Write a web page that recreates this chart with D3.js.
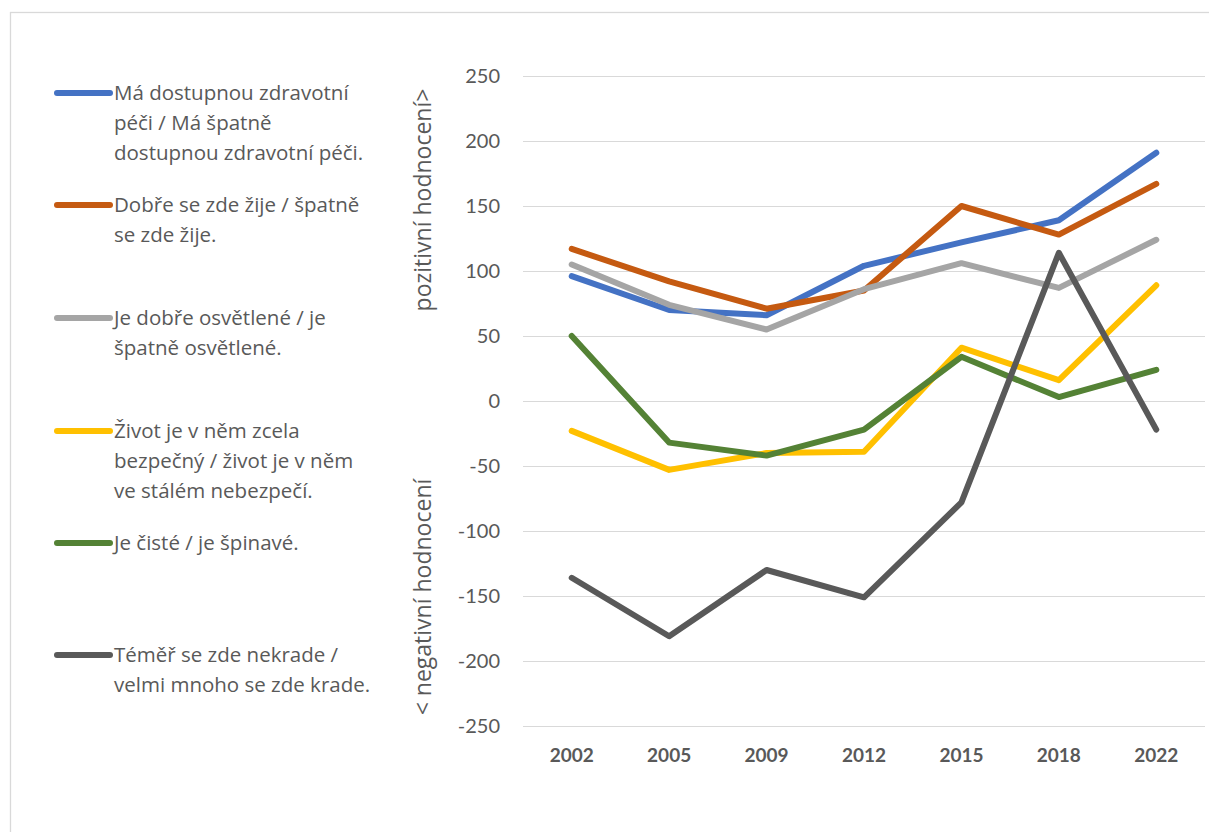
<!DOCTYPE html>
<meta charset="utf-8">
<style>
    body { margin: 0; background: #fff; }
    svg { font-family: Lato, "Open Sans", sans-serif; }
    .grid line { stroke: #d9d9d9; stroke-width: 1.3px; shape-rendering: crispEdges; }
    .tick-label { fill: #595959; font-size: 20px; }
    .axis-title { fill: #595959; font-size: 23px; font-family: "Open Sans", sans-serif; }
    .x-label { fill: #595959; font-size: 19px; font-weight: bold; }
    .legend text { fill: #595959; font-size: 20.5px; font-family: "Open Sans", sans-serif; }
</style>
<body>
<script src="https://d3js.org/d3.v7.min.js"></script>
<script>
    const years = ["2002", "2005", "2009", "2012", "2015", "2018", "2022"]
    const yTicks = [250, 200, 150, 100, 50, 0, -50, -100, -150, -200, -250]

    const healthcare = [96, 70, 66, 104, 122, 139, 191]
    const livingWell = [117, 92, 71, 85, 150, 128, 167]
    const lighting = [105, 74, 55, 86, 106, 87, 124]
    const safety = [-23, -53, -40, -39, 41, 16, 89]
    const cleanliness = [50, -32, -42, -22, 34, 3, 24]
    const theft = [-136, -181, -130, -151, -78, 114, -22]

    const seriesNames = [
        ["Má dostupnou zdravotní", "péči / Má špatně", "dostupnou zdravotní péči."],
        ["Dobře se zde žije / špatně", "se zde žije."],
        ["Je dobře osvětlené / je", "špatně osvětlené."],
        ["Život je v něm zcela", "bezpečný / život je v něm", "ve stálém nebezpečí."],
        ["Je čisté / je špinavé."],
        ["Téměř se zde nekrade /", "velmi mnoho se zde krade."]
    ]
    const seriesValues = [healthcare, livingWell, lighting, safety, cleanliness, theft]
    const colors = ["#4472c4", "#c55a11", "#a5a5a5", "#ffc000", "#548235", "#595959"]

    const width = 1209, height = 832
    const plot = {left: 523, right: 1205, top: 76, bottom: 726}

    const svg = d3.select("body").append("svg")
        .attr("width", width)
        .attr("height", height)

    // chart frame
    svg.append("rect")
        .attr("x", 10.5).attr("y", 12.5)
        .attr("width", 1220).attr("height", 840)
        .attr("fill", "none")
        .attr("stroke", "#d9d9d9")
        .attr("stroke-width", 1.3)

    let x = d3.scaleBand()
        .domain(years)
        .range([plot.left, plot.right])

    let y = d3.scaleLinear()
        .domain([-250, 250])
        .range([plot.bottom, plot.top])

    // gridlines
    svg.append("g")
        .attr("class", "grid")
        .selectAll("line")
        .data(yTicks)
        .enter().append("line")
            .attr("x1", plot.left)
            .attr("x2", plot.right)
            .attr("y1", d => Math.round(y(d)) + 0.5)
            .attr("y2", d => Math.round(y(d)) + 0.5)

    // y tick labels
    svg.append("g")
        .selectAll("text")
        .data(yTicks)
        .enter().append("text")
            .attr("class", "tick-label")
            .attr("x", 500)
            .attr("y", d => y(d))
            .attr("dy", "0.35em")
            .attr("text-anchor", "end")
            .text(d => d)

    // x labels
    svg.append("g")
        .selectAll("text")
        .data(years)
        .enter().append("text")
            .attr("class", "x-label")
            .attr("x", d => x(d) + x.bandwidth() / 2)
            .attr("y", 762)
            .attr("text-anchor", "middle")
            .text(d => d)

    // axis titles (rotated)
    svg.append("text")
        .attr("class", "axis-title")
        .attr("transform", "translate(431,200) rotate(-90)")
        .attr("text-anchor", "middle")
        .text("pozitivní hodnocení>")

    svg.append("text")
        .attr("class", "axis-title")
        .attr("transform", "translate(431,597) rotate(-90)")
        .attr("text-anchor", "middle")
        .text("< negativní hodnocení")

    const line = d3.line()
        .x((d, i) => x(years[i]) + x.bandwidth() / 2)
        .y(d => y(d))

    svg.append("g")
        .selectAll("path")
        .data(seriesValues)
        .enter().append("path")
            .attr("d", line)
            .attr("fill", "none")
            .attr("stroke", (d, i) => colors[i])
            .attr("stroke-width", 6)
            .attr("stroke-linejoin", "round")
            .attr("stroke-linecap", "round")

    // legend
    const legendY = [93, 205, 318, 431, 543, 655]
    const legend = svg.append("g")
        .attr("class", "legend")
        .selectAll("g")
        .data(seriesNames)
        .enter().append("g")
            .attr("transform", (d, i) => `translate(0,${legendY[i]})`)

    legend.append("line")
        .attr("x1", 57).attr("x2", 110)
        .attr("stroke", (d, i) => colors[i])
        .attr("stroke-width", 6)
        .attr("stroke-linecap", "round")

    legend.append("text")
        .selectAll("tspan")
        .data(d => d)
        .enter().append("tspan")
            .attr("x", 114)
            .attr("y", (d, i) => i * 30)
            .attr("dy", "0.35em")
            .text(d => d)
</script>
</body>
